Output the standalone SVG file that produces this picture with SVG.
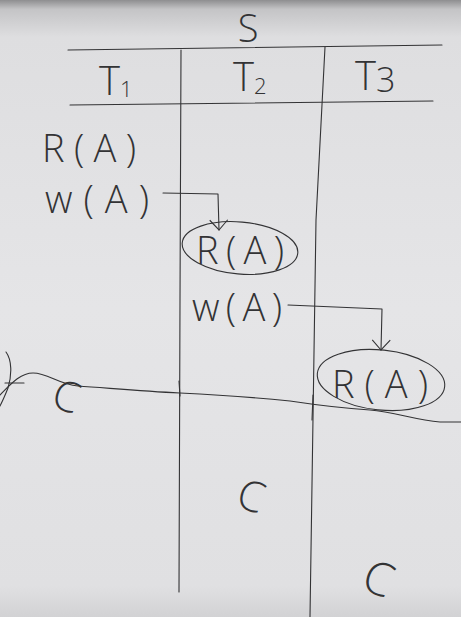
<svg xmlns="http://www.w3.org/2000/svg" width="461" height="617" viewBox="0 0 461 617">
<defs>
<linearGradient id="bg" x1="0" y1="0" x2="0" y2="1">
<stop offset="0" stop-color="#8e8e90"/>
<stop offset="0.015" stop-color="#c4c4c6"/>
<stop offset="0.06" stop-color="#dedee0"/>
<stop offset="0.5" stop-color="#e5e5e7"/>
<stop offset="0.95" stop-color="#e0e0e2"/>
<stop offset="1" stop-color="#d2d2d4"/>
</linearGradient>
<marker id="v" viewBox="0 0 12 20" refX="11" refY="10" markerWidth="12" markerHeight="20" markerUnits="userSpaceOnUse" orient="auto">
<path d="M1,1 L11,10 L1,19" fill="none" stroke="#333335" stroke-width="1.1"/>
</marker>
<style>
.ink{fill:none;stroke:#333335;stroke-width:1.1;stroke-linecap:round;stroke-linejoin:round}
.t{font-family:"Open Sans","Liberation Sans",sans-serif;font-weight:300;fill:#333335}
.op{font-size:38px}
.hd{font-size:40px}
.sub{font-size:22px}
</style>
</defs>
<rect width="461" height="617" fill="url(#bg)"/>

<g id="table">
<path class="ink" d="M68,50 L442,45"/>
<path class="ink" d="M70,105 L433,101"/>
<path class="ink" d="M181,50 L180,300 L179,592"/>
<path class="ink" d="M325,47 L316,220 L310,617"/>
</g>

<g id="title"><text class="t" x="248" y="42" font-size="38" text-anchor="middle">S</text></g>

<g id="header-T1"><text class="t hd" x="99" y="95">T<tspan class="sub" dy="2">1</tspan></text></g>
<g id="header-T2"><text class="t hd" x="233" y="91">T<tspan class="sub" dy="3">2</tspan></text></g>
<g id="header-T3"><text class="t hd" x="355" y="90">T<tspan font-size="34" dy="2">3</tspan></text></g>

<g id="t1-read"><text class="t op" x="42" y="162" textLength="94" lengthAdjust="spacing">R(A)</text></g>
<g id="t1-write"><text class="t op" x="45" y="213" textLength="104" lengthAdjust="spacing">w(A)</text></g>

<g id="t2-read">
<ellipse class="ink" cx="240" cy="248" rx="58" ry="26" transform="rotate(5 240 248)"/>
<text class="t op" x="196" y="264" textLength="88" lengthAdjust="spacing">R(A)</text>
</g>
<g id="t2-write"><text class="t op" x="192" y="321" textLength="90" lengthAdjust="spacing">w(A)</text></g>

<g id="t3-read">
<ellipse class="ink" cx="381" cy="380" rx="64" ry="30" transform="rotate(6 381 380)"/>
<text class="t op" x="332" y="398" textLength="96" lengthAdjust="spacing">R(A)</text>
</g>

<g id="commit-line">
<path class="ink" d="M6,352 C12,360 12,375 8,388 C4,398 1,405 -2,409"/>
<path class="ink" d="M0,395 C10,385 20,373 33,373 C48,373 58,384 78,386 C108,388 140,391 180,393 C220,395 250,397 290,401 C310,404 340,408 370,410 C395,412 415,420 440,422 L461,422"/>
<path class="ink" d="M5,383 L24,383"/>
<path class="ink" d="M179,381 L180,396"/>
<path class="ink" d="M313,395 L312,420"/>
</g>

<g id="commit-T1"><text class="t" x="52" y="414" font-size="42" transform="rotate(18 75 402)">C</text></g>
<g id="commit-T2"><text class="t" x="238" y="512" font-size="42" transform="rotate(18 255 497)">C</text></g>
<g id="commit-T3"><text class="t" x="364" y="597" font-size="46" transform="rotate(22 385 580)">C</text></g>

<g id="connectors">
<path class="ink" d="M163,193 L218,194 L219,230" marker-end="url(#v)"/>
<path class="ink" d="M288,305 L382,309 L381,350" marker-end="url(#v)"/>
</g>
</svg>
